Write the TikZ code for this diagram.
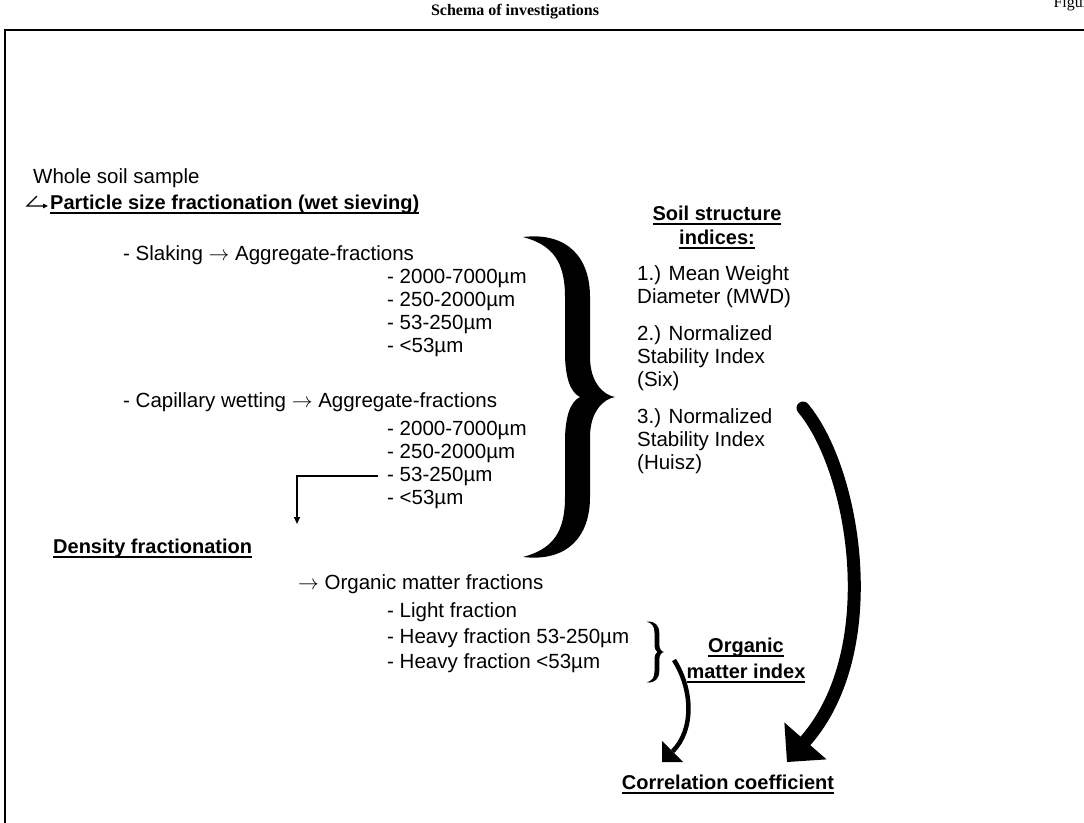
\documentclass[tikz,border=0pt]{standalone}
\usepackage{fontspec}
\setmainfont{Liberation Sans}
\newfontfamily\titlefont{Liberation Serif}
\usetikzlibrary{arrows.meta}
\newcommand\ulbox[1]{\setbox0\hbox{#1}\rlap{\vrule height -2.5pt depth 4.5pt width \wd0}\box0}

\begin{document}
\begin{tikzpicture}[x=1pt,y=-1pt,
 txt/.style={anchor=base west,inner sep=0pt,font=\fontsize{20.5}{23}\selectfont},
 hd/.style={txt,font=\fontsize{20}{23}\selectfont\bfseries},
 thinarrow/.style={line width=1.2pt,-{Triangle[length=5pt,width=4.5pt]}},
 elbow/.style={line width=2pt,-{Triangle[length=7pt,width=6pt]}},
 bigarrow/.style={line width=13pt,line cap=round,-{Triangle[length=28pt,width=56pt,line width=0pt]}},
 smallarrow/.style={line width=4.5pt,-{Triangle[length=15pt,width=30pt,line width=0pt]}},
 curlybrace/.pic={
  \fill (-92,-160) .. controls (-48,-165) and (-25,-140) .. (-25,-100) -- (-25,-40)
   .. controls (-25,-15) and (-12,-2) .. (0,0) .. controls (-12,2) and (-25,15) .. (-25,40)
   -- (-25,100) .. controls (-25,140) and (-48,165) .. (-92,160)
   .. controls (-62,152) and (-50,135) .. (-50,100) -- (-50,45)
   .. controls (-50,20) and (-45,5) .. (-35,0) .. controls (-45,-5) and (-50,-20) .. (-50,-45)
   -- (-50,-100) .. controls (-50,-135) and (-62,-152) .. (-92,-160) -- cycle;}]
\useasboundingbox (0,0) rectangle (1084,822);
\clip (0,0) rectangle (1084,822);
\draw[line width=2.5pt] (5,830) -- (5,30) -- (1090,30);
\node[font=\titlefont\fontsize{16}{18}\selectfont\bfseries] (title) at (515,12) {Schema of investigations};
\node[anchor=base west,font=\titlefont\fontsize{16}{18}\selectfont] (fig) at (1050,7) {Figure};

\node[txt] (whole) at (33,183) {Whole soil sample};
\node[hd] (psf) at (50,209) {\ulbox{Particle size fractionation (wet sieving)}};
\coordinate (wsk) at (37,196);
\draw[thinarrow] (wsk) -- (27,206) -- ([xshift=-2pt,yshift=3pt]psf.base west);

\node[txt] (slak) at (123,260) {- Slaking $\rightarrow$ Aggregate-fractions};
\foreach \s [count=\i] in {2000-7000,250-2000,53-250,<53}
 \node[txt] (sl\i) at (387,260+23*\i) {- \s{}µm};
\node[txt] (cap) at (123,407) {- Capillary wetting $\rightarrow$ Aggregate-fractions};
\foreach \s [count=\i] in {2000-7000,250-2000,53-250,<53}
 \node[txt] (cw\i) at (387,412+23*\i) {- \s{}µm};

\node[hd] (dens) at (53,553) {\ulbox{Density fractionation}};
\coordinate (densin) at (297,524);
\draw[elbow] ([xshift=-9pt]cw3.west) -| (densin);

\node[txt] (omf) at (298,589) {$\rightarrow$ Organic matter fractions};
\node[txt] (lf) at (387,617) {- Light fraction};
\node[txt] (hf1) at (387,643) {- Heavy fraction 53-250µm};
\node[txt] (hf2) at (387,668) {- Heavy fraction <53µm};

\pic at (615,397) {curlybrace};
\pic[scale=.19] at (664,652) {curlybrace};

\node[hd,anchor=base] (ssi1) at (717,220) {\ulbox{Soil structure}};
\node[hd,anchor=base] (ssi2) at (717,244) {\ulbox{indices:}};
\foreach \y/\t [count=\i] in {280/{1.) Mean Weight},303/{Diameter (MWD)},340/{2.) Normalized},
 363/{Stability Index},386/{(Six)},423/{3.) Normalized},446/{Stability Index},469/{(Huisz)}}
 \node[txt] (idx\i) at (637,\y) {\t};

\node[hd,anchor=base] (omi1) at (746,652) {\ulbox{Organic}};
\node[hd,anchor=base] (omi2) at (746,678) {\ulbox{matter index}};
\node[hd,anchor=base] (corr) at (728,789) {\ulbox{Correlation coefficient}};

\coordinate (idxout) at (803,408);
\coordinate (corrbig) at (787,762);
\draw[bigarrow] (idxout) .. controls (855,470) and (885,650) .. (corrbig);
\coordinate (hftip) at (674,660);
\coordinate (corrsmall) at (662,762);
\draw[smallarrow] (hftip) .. controls (693,690) and (694,730) .. (corrsmall);
\end{tikzpicture}
\end{document}
